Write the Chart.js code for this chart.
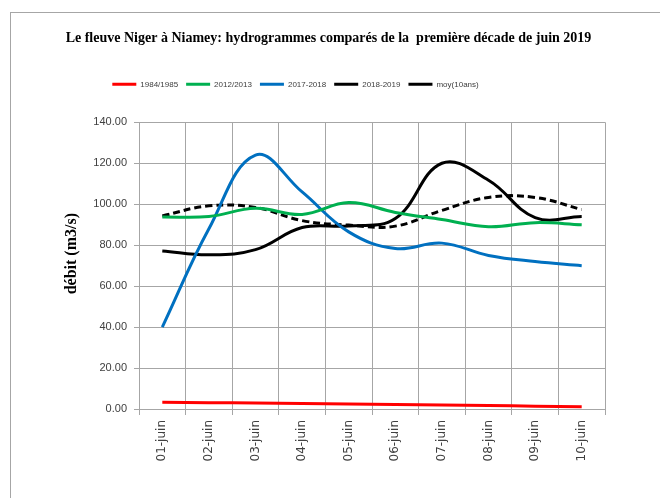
<!DOCTYPE html>
<html>
<head>
<meta charset="utf-8">
<script src="https://cdn.jsdelivr.net/npm/chart.js@4"></script>
<style>
  html, body { margin: 0; padding: 0; background: #fff; }
  #wrap { position: relative; width: 660px; height: 498px; overflow: hidden; }
  #frame { position: absolute; left: 10px; top: 12px; width: 700px; height: 600px;
           border-left: 1px solid #a6a6a6; border-top: 1px solid #a6a6a6; }
  canvas { position: absolute; left: 0; top: 0; }
</style>
</head>
<body>
<div id="wrap">
  <div id="frame"></div>
  <canvas id="myChart" width="660" height="498"></canvas>
</div>
<script>
const days = ["01-juin", "02-juin", "03-juin", "04-juin", "05-juin",
              "06-juin", "07-juin", "08-juin", "09-juin", "10-juin"];
const q1984 = [3.3, 3.1, 2.9, 2.7, 2.5, 2.2, 2.0, 1.7, 1.4, 1.1];
const q2012 = [93.8, 94.0, 98.0, 95.0, 100.8, 96.0, 92.5, 89.0, 91.0, 90.0];
const q2017 = [40.0, 88.0, 124.0, 106.0, 86.5, 78.4, 81.0, 75.0, 72.0, 70.0];
const q2018 = [77.2, 75.3, 77.8, 88.6, 89.4, 93.0, 120.0, 111.7, 93.5, 94.0];
const qMoy = [94.3, 99.2, 98.4, 92.0, 89.8, 89.3, 97.0, 103.3, 103.3, 97.4];

const gridColor = "#a6a6a6";
const textColor = "#404040";
const sans = "'Liberation Sans', Arial, sans-serif";
const serif = "'Liberation Serif', 'Times New Roman', serif";

// title and legend are centred on the page, not on the plot
const moveBoxes = {
  id: "moveBoxes",
  afterLayout(chart) {
    const t = chart.titleBlock;
    t.left += 26;
    t.right += 26;
    const lg = chart.legend;
    lg.left -= 7;
    lg.right -= 7;
    lg.top -= 24;
    lg.bottom -= 24;
  },
};

function serie(label, data, color, dash) {
  return {
    label: label,
    data: data,
    borderColor: color,
    backgroundColor: color,
    borderWidth: 3,
    borderDash: dash || [],
    pointRadius: 0,
    pointHoverRadius: 0,
    tension: 0.4,
    fill: false,
  };
}

const ctx = document.getElementById("myChart");

new Chart(ctx, {
  type: "line",
  data: {
    labels: days,
    datasets: [
      serie("1984/1985", q1984, "#ff0000"),
      serie("2012/2013", q2012, "#00b050"),
      serie("2017-2018", q2017, "#0070c0"),
      serie("2018-2019", q2018, "#000000"),
      serie("moy(10ans)", qMoy, "#000000", [7, 4]),
    ],
  },
  plugins: [moveBoxes],
  options: {
    responsive: false,
    animation: false,
    layout: { padding: { left: 0, right: 55, top: 0, bottom: 0 } },
    plugins: {
      title: {
        display: true,
        text: "Le fleuve Niger à Niamey: hydrogrammes comparés de la  première décade de juin 2019",
        color: "#000",
        font: { family: serif, size: 14, weight: "bold" },
        padding: { top: 30, bottom: 49.5 },
      },
      legend: {
        position: "top",
        labels: {
          usePointStyle: true,
          pointStyle: "line",
          pointStyleWidth: 24,
          padding: 8,
          color: textColor,
          font: { family: sans, size: 8 },
        },
      },
      tooltip: { enabled: false },
    },
    scales: {
      x: {
        offset: true,
        afterFit(scale) { scale.height = 89; },
        grid: { offset: true, color: gridColor, tickLength: 6, tickColor: gridColor },
        border: { color: gridColor },
        ticks: {
          minRotation: 90,
          maxRotation: 90,
          padding: 5,
          color: textColor,
          font: { family: "'DejaVu Sans', Verdana, sans-serif", size: 12 },
        },
      },
      y: {
        min: 0,
        max: 140,
        afterFit(scale) { scale.width = 139; },
        grid: { color: gridColor, tickLength: 5, tickColor: gridColor },
        border: { color: gridColor },
        ticks: {
          stepSize: 20,
          padding: 7,
          color: textColor,
          font: { family: sans, size: 11 },
          callback: (v) => v.toFixed(2),
        },
        title: {
          display: true,
          text: "      débit (m3/s)",
          color: "#000",
          font: { family: serif, size: 16, weight: "bold" },
          padding: { top: 62, bottom: 0 },
        },
      },
    },
  },
});
</script>
</body>
</html>
